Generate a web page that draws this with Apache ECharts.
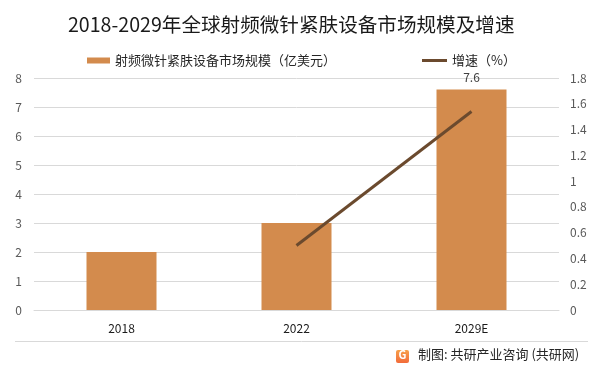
<!DOCTYPE html>
<html><head><meta charset="utf-8">
<script src="https://cdn.jsdelivr.net/npm/echarts@6/dist/echarts.min.js"></script>
<style>html,body{margin:0;padding:0;background:#fff}#c{width:600px;height:373px}</style>
</head><body><div id="c"></div>
<script>
const categories = ['2018', '2022', '2029E'];
const marketSize = [2, 3, 7.6];
const growthRate = [null, 0.5, 1.54];
const leftTicks = {min: 0, max: 8, interval: 1};
const rightTicks = {min: 0, max: 1.8, interval: 0.2};

const FONT = '"Noto Sans CJK SC", "Noto Sans", sans-serif';
const chart = echarts.init(document.getElementById('c'));
chart.setOption({
  animation: false,
  textStyle: {fontFamily: FONT},
  title: {
    text: '2018-2029年全球射频微针紧肤设备市场规模及增速',
    left: 63, top: 10,
    textStyle: {fontFamily: FONT, fontSize: 19.6, fontWeight: 'normal', color: '#1a1a1a'}
  },
  legend: [
    {data: ['射频微针紧肤设备市场规模（亿美元）'], left: 82, top: 49, icon: 'rect', itemWidth: 23, itemHeight: 6, itemGap: 5,
     textStyle: {fontSize: 13, color: '#262626', fontFamily: FONT}},
    {data: ['增速（%）'], left: 417, top: 49, icon: 'rect', itemWidth: 25, itemHeight: 3, itemGap: 5,
     textStyle: {fontSize: 13, color: '#262626', fontFamily: FONT}}
  ],
  grid: {left: 34, right: 41, top: 78, bottom: 63, containLabel: false},
  xAxis: {
    type: 'category', data: categories,
    axisLine: {show: true, lineStyle: {color: '#d9d9d9'}},
    axisTick: {show: false},
    axisLabel: {color: '#1a1a1a', fontSize: 12, margin: 12, fontFamily: FONT}
  },
  yAxis: [
    {type: 'value', min: leftTicks.min, max: leftTicks.max, interval: leftTicks.interval,
     axisLine: {show: false}, axisTick: {show: false},
     splitLine: {lineStyle: {color: '#d9d9d9'}},
     axisLabel: {color: '#595959', fontSize: 12, margin: 12}},
    {type: 'value', min: rightTicks.min, max: rightTicks.max, interval: rightTicks.interval,
     axisLine: {show: false}, axisTick: {show: false},
     splitLine: {show: false},
     axisLabel: {color: '#595959', fontSize: 12, margin: 11}}
  ],
  series: [
    {name: '射频微针紧肤设备市场规模（亿美元）', type: 'bar', barWidth: 70,
     itemStyle: {color: '#D38B4D'},
     data: marketSize.map((v, i) => i === marketSize.length - 1
       ? {value: v, label: {show: true, position: 'top', color: '#404040', fontSize: 12, distance: 6}}
       : v)},
    {name: '增速（%）', type: 'line', yAxisIndex: 1, showSymbol: false, symbol: 'none',
     itemStyle: {color: '#6B4A2E'}, lineStyle: {color: '#6B4A2E', width: 3},
     data: growthRate}
  ],
  graphic: [
    {type: 'line', shape: {x1: 15, y1: 341.5, x2: 588, y2: 341.5}, style: {stroke: '#d9d9d9', lineWidth: 1}},
    {type: 'rect', shape: {x: 396, y: 350, width: 13, height: 13, r: 2},
     style: {fill: new echarts.graphic.LinearGradient(0, 0, 0, 1, [{offset: 0, color: '#F7A04A'}, {offset: 1, color: '#F26B3A'}])}},
    {type: 'text', left: 398.5, top: 349, style: {text: 'G', fill: '#fff', font: 'bold 11px ' + FONT}},
    {type: 'text', left: 418, top: 348, style: {text: '制图: 共研产业咨询 (共研网)', fill: '#262626', font: '13px ' + FONT}}
  ]
});
</script></body></html>
